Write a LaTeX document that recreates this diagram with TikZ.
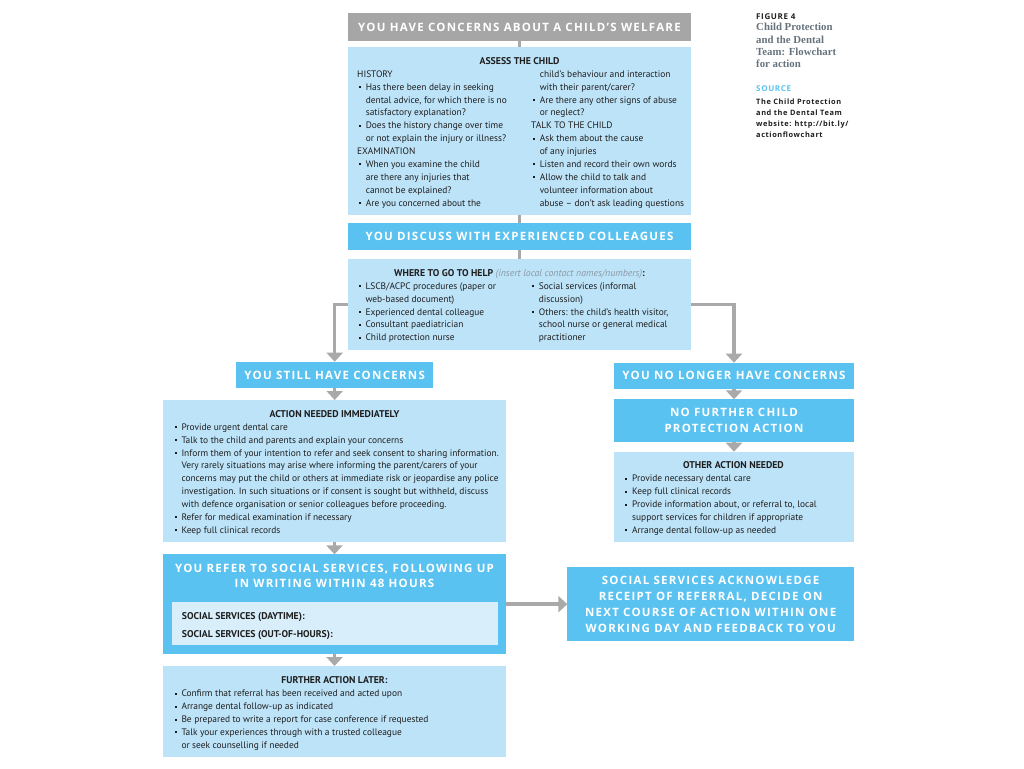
\documentclass[tikz,border=0pt]{standalone}
\usepackage{fontspec}
\setmainfont{PT Sans}
\newfontfamily\headfont{Open Sans}[LetterSpace=11.0]
\newfontfamily\smallfont{Open Sans}[LetterSpace=8.0]
\newfontfamily\figfont{Liberation Serif}
\usetikzlibrary{arrows.meta}
\definecolor{paleblue}{HTML}{BDE3F8}
\definecolor{midblue}{HTML}{5AC2F0}
\definecolor{innerblue}{HTML}{D8EEFB}
\definecolor{boxgrey}{HTML}{A6A6A6}
\definecolor{linegrey}{HTML}{A9A9A9}
\definecolor{ink}{HTML}{1E1E1E}
\definecolor{notegrey}{HTML}{8C99A4}
\definecolor{figgrey}{HTML}{66737D}
\def\bl{\makebox[7pt][l]{\raisebox{2.2pt}{\rule{2pt}{2pt}}}}
\def\itm{\hspace*{1.6pt}\bl}
\def\cnt{\hspace*{8.6pt}}
\def\ind{\hspace*{7pt}}
\def\fr{\rule{0pt}{10pt}}
\tikzset{
  box/.style={inner sep=0pt, outer sep=0pt, anchor=north west},
  greybox/.style={box, fill=boxgrey, text=white, align=center,
    font=\headfont\bfseries\fontsize{11.5}{16}\selectfont},
  headbox/.style={greybox, fill=midblue},
  palebox/.style={box, fill=paleblue},
  body/.style={inner sep=0pt, anchor=north west, align=left, text=ink,
    font=\fontsize{9.4}{12.9}\selectfont},
  title/.style={inner sep=0pt, anchor=base, text=ink,
    font=\bfseries\fontsize{9.8}{12.9}\selectfont},
  link/.style={draw=linegrey, line width=3.5pt},
  arrow/.style={link, -{Triangle[width=16pt,length=9pt]}},
}

\begin{document}
\begin{tikzpicture}[x=1pt, y=-1pt]
  \useasboundingbox (0,0) rectangle (1024,768);
  %%%%% BOXES %%%%%
  \node[greybox, minimum width=342.4pt, minimum height=27.4pt] (welfare) at (348.3,13.3) {YOU HAVE CONCERNS ABOUT A CHILD’S WELFARE};
  \node[palebox, minimum width=342.4pt, minimum height=167.7pt] (assess) at (348.3,47.3) {};
  \node[headbox, minimum width=342.4pt, minimum height=26.7pt] (discuss) at (348.3,223.3) {YOU DISCUSS WITH EXPERIENCED COLLEAGUES};
  \node[palebox, minimum width=342.4pt, minimum height=90.7pt] (where) at (348.3,259.3) {};

  \node[headbox, minimum width=197.3pt, minimum height=26.6pt] (still) at (236,361.7) {YOU STILL HAVE CONCERNS};
  \node[palebox, minimum width=342.4pt, minimum height=142pt] (action) at (163.3,400) {};
  \node[headbox, minimum width=342.4pt, minimum height=99.7pt] (refer) at (163.3,554.3) {};
  \node[box, fill=innerblue, minimum width=325.7pt, minimum height=42.7pt] (contacts) at (172,602.3) {};
  \node[palebox, minimum width=342.4pt, minimum height=90.7pt] (further) at (163.3,666) {};

  \node[headbox, minimum width=240pt, minimum height=26.3pt] (nolonger) at (614,362.7) {YOU NO LONGER HAVE CONCERNS};
  \node[headbox, minimum width=240pt, minimum height=42.4pt] (nofurther) at (614,399.3) {NO FURTHER CHILD\\PROTECTION ACTION};
  \node[palebox, minimum width=240pt, minimum height=90pt] (otheraction) at (614,451.7) {};
  \node[headbox, minimum width=286.7pt, minimum height=73.7pt] (ssreply) at (567.3,567.3) {SOCIAL SERVICES ACKNOWLEDGE\\RECEIPT OF REFERRAL, DECIDE ON\\NEXT COURSE OF ACTION WITHIN ONE\\WORKING DAY AND FEEDBACK TO YOU};

  %%%%% TEXTS %%%%%
  \node[title] (assesstitle) at (519.5,64) {ASSESS THE CHILD};
  \node[body] (assessleft) at (357,67) {\fr HISTORY\\
    \itm Has there been delay in seeking\\
    \cnt dental advice, for which there is no\\
    \cnt satisfactory explanation?\\
    \itm Does the history change over time\\
    \cnt or not explain the injury or illness?\\
    EXAMINATION\\
    \itm When you examine the child\\
    \cnt are there any injuries that\\
    \cnt cannot be explained?\\
    \itm Are you concerned about the};
  \node[body] (assessright) at (531,67) {\fr\cnt child’s behaviour and interaction\\
    \cnt with their parent/carer?\\
    \itm Are there any other signs of abuse\\
    \cnt or neglect?\\
    TALK TO THE CHILD\\
    \itm Ask them about the cause\\
    \cnt of any injuries\\
    \itm Listen and record their own words\\
    \itm Allow the child to talk and\\
    \cnt volunteer information about\\
    \cnt abuse -- don’t ask leading questions};

  \node[title] (wheretitle) at (519.5,276) {WHERE TO GO TO HELP \textcolor{notegrey}{\mdseries\itshape (insert local contact names/numbers)}:};
  \node[body] (whereleft) at (358.3,279) {\fr\bl LSCB/ACPC procedures (paper or\\
    \ind web-based document)\\
    \bl Experienced dental colleague\\
    \bl Consultant paediatrician\\
    \bl Child protection nurse};
  \node[body] (whereright) at (531.7,279) {\fr\bl Social services (informal\\
    \ind discussion)\\
    \bl Others: the child’s health visitor,\\
    \ind school nurse or general medical\\
    \ind practitioner};

  \node[title] (actiontitle) at (334.5,417) {ACTION NEEDED IMMEDIATELY};
  \node[body] (actionlist) at (174.3,420) {\fr\bl Provide urgent dental care\\
    \bl Talk to the child and parents and explain your concerns\\
    \bl Inform them of your intention to refer and seek consent to sharing information.\\
    \ind Very rarely situations may arise where informing the parent/carers of your\\
    \ind concerns may put the child or others at immediate risk or jeopardise any police\\
    \ind investigation. In such situations or if consent is sought but withheld, discuss\\
    \ind with defence organisation or senior colleagues before proceeding.\\
    \bl Refer for medical examination if necessary\\
    \bl Keep full clinical records};

  \node[greybox, fill=none, anchor=north, font=\headfont\bfseries\fontsize{11.5}{15.4}\selectfont] (refertitle) at (334.5,562.3) {\fr YOU REFER TO SOCIAL SERVICES, FOLLOWING UP\\IN WRITING WITHIN 48 HOURS};
  \node[body, font=\bfseries\fontsize{9.8}{18.7}\selectfont] (contacttext) at (181.7,609) {\fr SOCIAL SERVICES (DAYTIME):\\SOCIAL SERVICES (OUT-OF-HOURS):};

  \node[title] (furthertitle) at (334.5,683.3) {FURTHER ACTION LATER:};
  \node[body] (furtherlist) at (174.3,686.7) {\fr\bl Confirm that referral has been received and acted upon\\
    \bl Arrange dental follow-up as indicated\\
    \bl Be prepared to write a report for case conference if requested\\
    \bl Talk your experiences through with a trusted colleague\\
    \ind or seek counselling if needed};

  \node[title] (othertitle) at (733.5,468.5) {OTHER ACTION NEEDED};
  \node[body] (otherlist) at (625,471.7) {\fr\bl Provide necessary dental care\\
    \bl Keep full clinical records\\
    \bl Provide information about, or referral to, local\\
    \ind support services for children if appropriate\\
    \bl Arrange dental follow-up as needed};

  %%%%% CAPTION %%%%%
  \node[inner sep=0pt, anchor=base west, text=ink, font=\smallfont\bfseries\fontsize{8}{9}\selectfont] (fignum) at (756,19.5) {FIGURE 4};
  \node[inner sep=0pt, anchor=north west, align=left, text=figgrey, font=\figfont\bfseries\fontsize{10.8}{12.2}\selectfont] (figtitle) at (756,20.7) {\fr Child Protection\\and the Dental\\Team: Flowchart\\for action};
  \node[inner sep=0pt, anchor=base west, text=midblue, font=\smallfont\bfseries\fontsize{8}{9}\selectfont] (source) at (756,91) {SOURCE};
  \node[inner sep=0pt, anchor=north west, align=left, text=ink, font=\smallfont\bfseries\fontsize{7.4}{11}\selectfont] (sourcetext) at (756,94.3) {\fr The Child Protection\\and the Dental Team\\website: http://bit.ly/\\actionflowchart};

  %%%%% CONNECTORS %%%%%
  \draw[link] (welfare.south) -- (assess.north);
  \draw[link] (assess.south) -- (discuss.north);
  \draw[link] (discuss.south) -- (where.north);
  \draw[arrow] (where.west) -| (still.north);
  \draw[arrow] (where.east) -| (nolonger.north);
  \draw[arrow] (still.south) -- (still.south |- action.north);
  \draw[arrow] (action.south) -- (refer.north);
  \draw[arrow] (refer.south) -- (further.north);
  \draw[arrow] (nolonger.south) -- (nofurther.north);
  \draw[arrow] (nofurther.south) -- (otheraction.north);
  \draw[arrow] (refer.east) -- (refer.east -| ssreply.west);
\end{tikzpicture}
\end{document}
